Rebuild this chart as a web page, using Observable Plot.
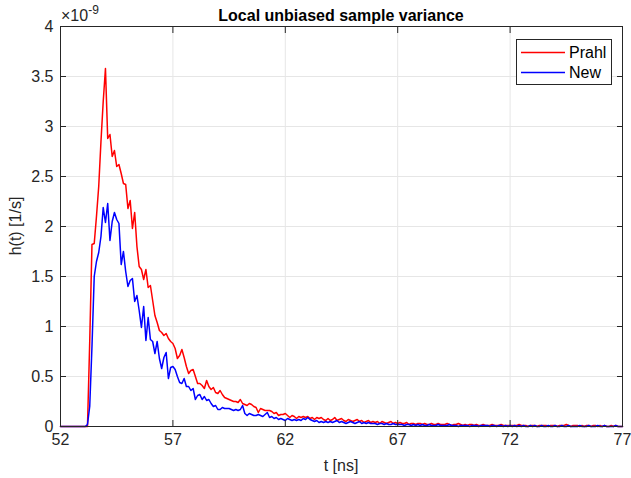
<!DOCTYPE html>
<html><head><meta charset="utf-8">
<script src="https://cdn.jsdelivr.net/npm/d3@7"></script>
<script src="https://cdn.jsdelivr.net/npm/@observablehq/plot@0.6"></script>
<style>
body{margin:0;background:#fff;}
svg{font-family:"Liberation Sans",Arial,sans-serif;}
</style>
</head><body><div id="chart"></div>
<script>
// sampling of the time axis (ns)
const tStart = 52;
const tStep = 0.1;
const exponent = -9; // values are in units of 1e-9 1/s

const prahl = [
0,0,0,0,0,0,0,0,0,0,
0,0,0,0.85,1.82,1.83,2.1,2.4,2.85,3.25,
3.58,2.88,2.92,2.70,2.76,2.60,2.62,2.53,2.43,2.42,
2.18,2.26,1.98,2.14,1.80,1.60,1.57,1.47,1.57,1.39,
1.41,1.26,1.11,1.04,0.96,0.94,0.91,0.93,0.88,0.85,
0.83,0.78,0.68,0.71,0.77,0.69,0.60,0.53,0.56,0.57,
0.50,0.43,0.43,0.41,0.38,0.46,0.40,0.37,0.39,0.34,
0.33,0.36,0.32,0.29,0.28,0.27,0.26,0.25,0.25,0.24,
0.27,0.23,0.22,0.21,0.23,0.22,0.20,0.19,0.14,0.18,
0.17,0.16,0.16,0.16,0.15,0.13,0.14,0.11,0.12,0.12,
0.13,0.11,0.09,0.11,0.10,0.08,0.10,0.09,0.10,0.09,
0.10,0.08,0.09,0.07,0.09,0.08,0.09,0.07,0.06,0.08,
0.06,0.07,0.09,0.06,0.07,0.08,0.06,0.05,0.07,0.06,
0.05,0.06,0.07,0.05,0.06,0.04,0.05,0.06,0.04,0.05,
0.04,0.05,0.03,0.05,0.04,0.03,0.04,0.05,0.03,0.04,
0.03,0.04,0.03,0.03,0.04,0.02,0.03,0.03,0.02,0.03,
0.03,0.02,0.03,0.02,0.02,0.03,0.02,0.02,0.03,0.02,
0.02,0.02,0.03,0.02,0.01,0.02,0.02,0.03,0.02,0.01,
0.02,0.01,0.02,0.02,0.01,0.02,0.01,0.01,0.02,0.01,
0.01,0.01,0.02,0.01,0.01,0.01,0.02,0.01,0.01,0.01,
0.01,0.01,0.01,0.01,0.02,0.01,0.01,0.01,0.00,0.01,
0.01,0.01,0.00,0.01,0.01,0.01,0.01,0.00,0.01,0.01,
0.01,0.00,0.01,0.01,0.01,0.02,0.01,0.00,0.01,0.01,
0.01,0.00,0.01,0.00,0.01,0.01,0.00,0.01,0.01,0.00,
0.01,0.00,0.01,0.00,0.00,0.01,0.00,0.01,0.00,0.00,
0.00
];

const newer = [
0,0,0,0,0,0,0,0,0,0,
0,0,0.02,0.2,0.8,1.5,1.65,1.74,1.90,2.19,
2.04,2.23,1.86,2.05,2.14,2.07,2.03,1.62,1.75,1.55,
1.40,1.46,1.48,1.25,1.31,1.16,0.99,1.20,0.86,1.09,
0.87,0.85,0.73,0.85,0.68,0.58,0.69,0.74,0.48,0.59,
0.60,0.57,0.50,0.44,0.43,0.48,0.40,0.40,0.36,0.38,
0.27,0.31,0.32,0.27,0.30,0.26,0.27,0.23,0.20,0.21,
0.17,0.17,0.19,0.18,0.18,0.18,0.17,0.16,0.17,0.16,
0.17,0.21,0.13,0.11,0.13,0.12,0.11,0.11,0.12,0.11,
0.10,0.12,0.14,0.09,0.10,0.08,0.09,0.07,0.08,0.07,
0.06,0.08,0.07,0.06,0.07,0.06,0.07,0.06,0.08,0.07,
0.09,0.07,0.06,0.05,0.06,0.04,0.05,0.04,0.05,0.04,
0.05,0.04,0.05,0.06,0.04,0.05,0.04,0.03,0.04,0.05,
0.04,0.03,0.04,0.05,0.03,0.04,0.03,0.04,0.03,0.03,
0.03,0.02,0.03,0.03,0.02,0.03,0.02,0.02,0.03,0.02,
0.02,0.02,0.02,0.01,0.02,0.02,0.01,0.02,0.01,0.02,
0.01,0.02,0.01,0.01,0.02,0.01,0.01,0.01,0.02,0.01,
0.01,0.01,0.01,0.02,0.01,0.01,0.01,0.00,0.01,0.01,
0.01,0.01,0.00,0.01,0.01,0.01,0.00,0.01,0.01,0.01,
0.01,0.00,0.01,0.01,0.00,0.01,0.01,0.00,0.01,0.00,
0.01,0.00,0.01,0.00,0.01,0.00,0.01,0.00,0.00,0.01,
0.00,0.01,0.00,0.00,0.01,0.00,0.00,0.01,0.00,0.00,
0.01,0.00,0.00,0.01,0.00,0.00,0.01,0.00,0.00,0.00,
0.00,0.01,0.00,0.00,0.00,0.01,0.00,0.00,0.00,0.01,
0.00,0.00,0.01,0.00,0.00,0.00,0.00,0.01,0.00,0.00,
0.00
];

const seriesNames = ["Prahl", "New"];
const seriesColors = ["#ff0000", "#0000ff"];
const xTicks = [52, 57, 62, 67, 72, 77];
const yTicks = [0, 0.5, 1, 1.5, 2, 2.5, 3, 3.5, 4];
const titleText = "Local unbiased sample variance";
const xLabel = "t [ns]";
const yLabel = "h(t) [1/s]";

const rows = prahl.map((v, i) => ({t: +(tStart + i * tStep).toFixed(2), prahl: v, nw: newer[i]}));

const axisColor = "#262626";
const gridColor = "#e6e6e6";
const font = "'Liberation Sans', Arial, sans-serif";

const chart = Plot.plot({
  width: 631,
  height: 478,
  marginLeft: 60,
  marginRight: 9,
  marginTop: 26,
  marginBottom: 52,
  style: {fontFamily: font, fontSize: "16px", color: axisColor, background: "#fff", overflow: "visible"},
  x: {domain: [52, 77]},
  y: {domain: [0, 4]},
  marks: [
    Plot.gridX(xTicks, {stroke: gridColor, strokeOpacity: 1}),
    Plot.gridY(yTicks, {stroke: gridColor, strokeOpacity: 1}),
    Plot.line(rows, {x: "t", y: "prahl", stroke: seriesColors[0], strokeWidth: 1.5}),
    Plot.line(rows, {x: "t", y: "nw", stroke: seriesColors[1], strokeWidth: 1.5}),
    Plot.frame({stroke: axisColor}),
    Plot.axisX(xTicks, {anchor: "bottom", tickSize: -6, tickPadding: 13, label: null, tickFormat: d => String(d), stroke: axisColor}),
    Plot.axisX(xTicks, {anchor: "top", tickSize: -6, label: null, tickFormat: () => "", stroke: axisColor}),
    Plot.axisY(yTicks, {anchor: "left", tickSize: -6, tickPadding: 13, label: null, tickFormat: d => String(d), stroke: axisColor}),
    Plot.axisY(yTicks, {anchor: "right", tickSize: -6, label: null, tickFormat: () => "", stroke: axisColor})
  ]
});

const svg = d3.select(chart);
// title
svg.append("text").attr("x", 341).attr("y", 20.5).attr("text-anchor", "middle").attr("font-family", font)
  .attr("font-size", 16).attr("font-weight", "bold").attr("fill", "#000").text(titleText);
// exponent
const ex = svg.append("text").attr("x", 61).attr("y", 21).attr("text-anchor", "start")
  .attr("font-family", font).attr("font-size", 16).attr("fill", axisColor);
ex.append("tspan").text("\u00d710");
ex.append("tspan").attr("dy", -7).attr("font-size", 12).text(String(exponent));
// axis labels
svg.append("text").attr("x", 341).attr("y", 471).attr("text-anchor", "middle").attr("font-family", font)
  .attr("font-size", 16).attr("fill", axisColor).text(xLabel);
svg.append("text").attr("transform", "translate(21,226) rotate(-90)").attr("text-anchor", "middle")
  .attr("font-family", font).attr("font-size", 16).attr("fill", axisColor).text(yLabel);
// legend
const lg = svg.append("g");
lg.append("rect").attr("x", 516.5).attr("y", 39.5).attr("width", 95).attr("height", 45)
  .attr("fill", "#fff").attr("stroke", axisColor).attr("stroke-width", 1);
seriesNames.forEach((name, i) => {
  const y = 52.5 + i * 20;
  lg.append("line").attr("x1", 521).attr("x2", 565).attr("y1", y).attr("y2", y)
    .attr("stroke", seriesColors[i]).attr("stroke-width", 1.5);
  lg.append("text").attr("x", 569).attr("y", y + 5.5).attr("text-anchor", "start").attr("font-family", font)
    .attr("font-size", 16).attr("fill", "#000").text(name);
});

document.getElementById("chart").appendChild(chart);
</script>
</body></html>
